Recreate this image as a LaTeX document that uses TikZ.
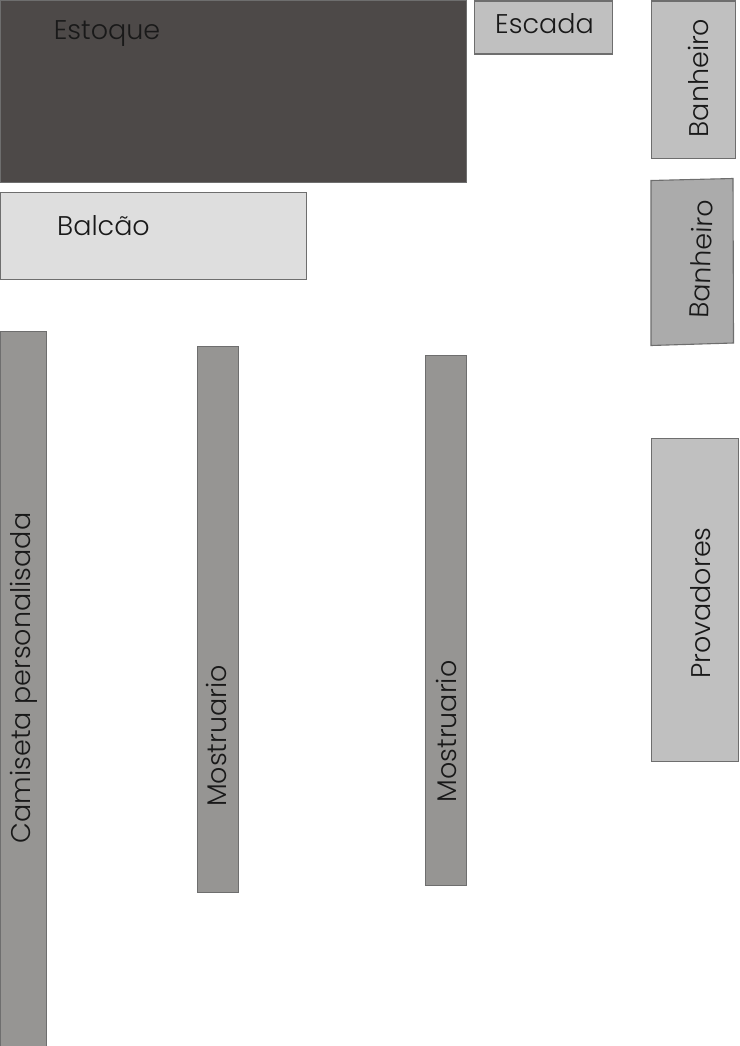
\documentclass[tikz,border=0pt]{standalone}
\usepackage{fontspec}
\setmainfont{Poppins Light}
\definecolor{estoquecor}{HTML}{4D4948}
\definecolor{balcaocor}{HTML}{DEDEDE}
\definecolor{salacor}{HTML}{C0C0C0}
\definecolor{banhocor}{HTML}{ABABAB}
\definecolor{mostracor}{HTML}{969593}
\definecolor{bordacor}{HTML}{6E6E6E}
\tikzset{
	sala/.style={draw=bordacor, line width=1.1pt, inner sep=0pt, anchor=north west},
	rotulo/.style={text=black!90, font=\fontsize{27}{32}\selectfont, inner sep=0pt},
	rotuloV/.style={rotulo, rotate=90}
}

\begin{document}
\begin{tikzpicture}[x=1pt,y=-1pt]
	\useasboundingbox (0,0) rectangle (739,1046);
	\node[sala, fill=estoquecor, minimum width=466pt, minimum height=182pt] (estoque) at (0,0) {};
	\node[sala, fill=balcaocor, minimum width=306pt, minimum height=87pt] (balcao) at (0,192) {};
	\node[sala, fill=salacor, minimum width=138pt, minimum height=53pt] (escada) at (474,0.5) {};
	\node[sala, fill=salacor, minimum width=84pt, minimum height=157.5pt] (banheiroA) at (651,0.5) {};
	\draw[draw=bordacor, line width=1.1pt, fill=banhocor] (651,180.5) -- (733,178.5) -- (733.5,343) -- (651,345.5) -- cycle;
	\node[sala, fill=salacor, minimum width=87pt, minimum height=323pt] (provadores) at (651,438) {};
	\node[sala, fill=mostracor, minimum width=46pt, minimum height=715pt] (camiseta) at (0,331) {};
	\node[sala, fill=mostracor, minimum width=41pt, minimum height=546pt] (mostruarioA) at (197,345.5) {};
	\node[sala, fill=mostracor, minimum width=41pt, minimum height=529.5pt] (mostruarioB) at (425,355) {};
	% textos
	\node[rotulo] (tEstoque) at (107,34) {Estoque};
	\node[rotulo] (tBalcao) at (103.5,226) {Balcão};
	\node[rotulo] (tEscada) at (544.5,24) {Escada};
	\node[rotuloV] (tBanheiroA) at (698.5,78) {Banheiro};
	\node[rotuloV, rotate=-2] (tBanheiroB) at (701,259) {Banheiro};
	\node[rotuloV] (tProvadores) at (700.5,603) {Provadores};
	\node[rotuloV] (tCamiseta) at (23.5,678) {Camiseta personalisada};
	\node[rotuloV] (tMostruarioA) at (216,736) {Mostruario};
	\node[rotuloV] (tMostruarioB) at (446.5,731.5) {Mostruario};
\end{tikzpicture}
\end{document}
